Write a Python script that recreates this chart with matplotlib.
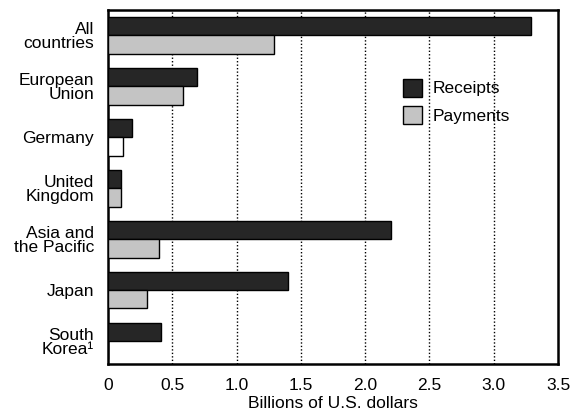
import matplotlib
matplotlib.use('Agg')
import matplotlib.pyplot as plt
import numpy as np
from matplotlib.patches import Patch

regions = ['All\ncountries', 'European\nUnion', 'Germany', 'United\nKingdom',
           'Asia and\nthe Pacific', 'Japan', 'South\nKorea\u00b9']
receipts = [3.29, 0.69, 0.19, 0.10, 2.20, 1.40, 0.41]
payments = [1.29, 0.58, 0.12, 0.10, 0.40, 0.30, 0.0]
xticks = [0, 0.5, 1.0, 1.5, 2.0, 2.5, 3.0, 3.5]
xticklabels = ['0', '0.5', '1.0', '1.5', '2.0', '2.5', '3.0', '3.5']

plt.rcParams['font.family'] = ['Liberation Sans', 'DejaVu Sans']
fs = 12.5

fig = plt.figure(figsize=(5.73, 4.16), dpi=100)
ax = fig.add_axes([108/573, 1 - 364/416, 450/573, 354/416])

pos = np.arange(len(regions))
h = 0.36
pay_colors = ['#c4c4c4'] * len(regions)
pay_colors[2] = 'white'  # scanned as blank in the original
ax.barh(pos - h/2, receipts, height=h, color='#262626', edgecolor='black', lw=1.0, zorder=3)
ax.barh(pos + h/2, payments, height=h, color=pay_colors, edgecolor='black', lw=1.0, zorder=3)

ax.set_xlim(0, 3.5)
ax.set_ylim(6.45, -0.5)
ax.set_yticks(pos)
ax.set_yticklabels(regions, fontsize=fs, linespacing=0.95)
ax.set_xticks(xticks)
ax.set_xticklabels(xticklabels, fontsize=fs)
ax.tick_params(length=0)
ax.tick_params(axis='y', pad=10)
ax.tick_params(axis='x', pad=10)
for x in xticks[1:-1]:
    ax.axvline(x, color='black', ls=(0, (1, 1.5)), lw=1.0, zorder=1)
for s in ax.spines.values():
    s.set_linewidth(1.8)

ax.set_xlabel('Billions of U.S. dollars', fontsize=fs, labelpad=2)

handles = [Patch(facecolor='#262626', edgecolor='black', label='Receipts'),
           Patch(facecolor='#c4c4c4', edgecolor='black', label='Payments')]
ax.legend(handles=handles, loc='upper left', bbox_to_anchor=(0.62, 0.85),
          frameon=False, fontsize=fs, handlelength=1.1, handleheight=1.2,
          handletextpad=0.6, labelspacing=0.55)

fig.savefig('out.png', dpi=100)
